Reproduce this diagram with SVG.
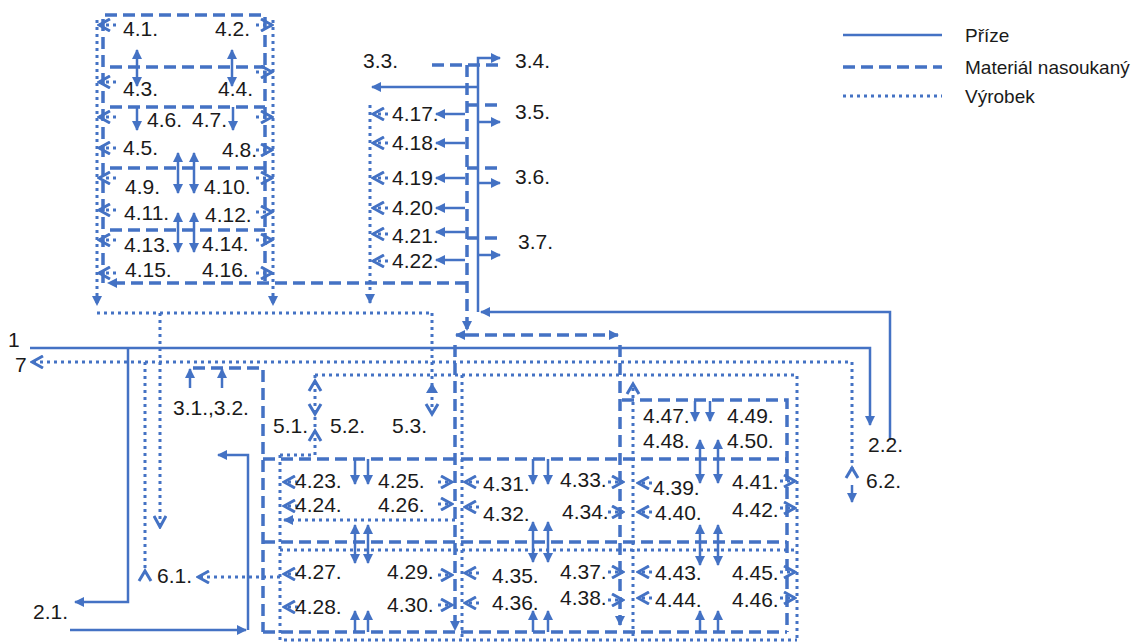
<svg xmlns="http://www.w3.org/2000/svg" width="1137" height="642" viewBox="0 0 1137 642">
<style>
.s{fill:none;stroke:#4472C4;stroke-width:2.5}
.d{fill:none;stroke:#4472C4;stroke-width:3.5;stroke-dasharray:12 6}
.o{fill:none;stroke:#4472C4;stroke-width:3;stroke-dasharray:3 4}
.ch{fill:none;stroke:#4472C4;stroke-width:3}
.ae{marker-end:url(#a)}
.ab{marker-start:url(#a);marker-end:url(#a)}
.ce{marker-end:url(#c)}
text{font-family:"Liberation Sans",Arial,sans-serif;font-size:21px;fill:#1a1a1a}
.lg{font-size:19px}
</style>
<defs>
<marker id="a" viewBox="0 0 10 10" refX="9" refY="5" markerWidth="10" markerHeight="10" markerUnits="userSpaceOnUse" orient="auto-start-reverse"><path d="M0,0 L10,5 L0,10 z" fill="#4472C4"/></marker>
<marker id="c" viewBox="0 0 14 14" refX="12" refY="7" markerWidth="14" markerHeight="14" markerUnits="userSpaceOnUse" orient="auto-start-reverse"><path d="M1,1 L12,7 L1,13" fill="none" stroke="#4472C4" stroke-width="3" stroke-dasharray="none"/></marker>
</defs>
<rect width="1137" height="642" fill="#fff"/>

<g id="legend">
<path class="s" d="M843,35 H942"/>
<path class="d" d="M843,67 H942"/>
<path class="o" d="M843,96 H942"/>
<text class="lg" x="965" y="42">Příze</text>
<text class="lg" x="965" y="74">Materiál nasoukaný</text>
<text class="lg" x="965" y="103">Výrobek</text>
</g>

<g id="connectors">
<!-- top-left block dashed -->
<path class="d" d="M103,283 V15 H265 V283"/>
<path class="d" d="M110,67 H265 M110,107 H265 M110,168 H265 M110,230 H265"/>
<path class="d ae" d="M467,283 H108"/>
<!-- top-left block dotted -->
<path class="o ae" d="M97,20 V305"/>
<path class="o ae" d="M273,20 V305"/>
<path class="o" d="M97,313 H432"/>
<path class="o ce" d="M160,313 V527"/>
<path class="o ce" d="M116,25 H99"/>
<path class="o ce" d="M116,82 H99"/>
<path class="o ce" d="M116,117 H99"/>
<path class="o ce" d="M116,148 H99"/>
<path class="o ce" d="M116,178 H99"/>
<path class="o ce" d="M116,210 H99"/>
<path class="o ce" d="M116,240 H99"/>
<path class="o ce" d="M116,273 H99"/>
<path class="o ce" d="M256,25 H272"/>
<path class="o ce" d="M256,72 H272"/>
<path class="o ce" d="M256,117 H272"/>
<path class="o ce" d="M256,150 H272"/>
<path class="o ce" d="M256,178 H272"/>
<path class="o ce" d="M256,212 H272"/>
<path class="o ce" d="M256,240 H272"/>
<path class="o ce" d="M256,273 H272"/>
<!-- top-left block solid arrows -->
<path class="s ab" d="M137,50 V86"/>
<path class="s ab" d="M232,50 V86"/>
<path class="s ae" d="M137,107 V130"/>
<path class="s ae" d="M233,107 V130"/>
<path class="s ab" d="M178,153 V193"/>
<path class="s ab" d="M194,153 V193"/>
<path class="s ab" d="M178,213 V252"/>
<path class="s ab" d="M194,213 V252"/>

<!-- middle column -->
<path class="s ae" d="M890,440 V312 H481"/>
<path class="s ae" d="M478,312 V58 H500"/>
<path class="s ae" d="M478,87 H372"/>
<path class="s ae" d="M478,122 H500"/>
<path class="s ae" d="M478,183 H500"/>
<path class="s ae" d="M478,255 H500"/>
<path class="s ae" d="M465,114 H436"/>
<path class="s ae" d="M465,143 H436"/>
<path class="s ae" d="M465,178 H436"/>
<path class="s ae" d="M465,208 H436"/>
<path class="s ae" d="M465,232 H436"/>
<path class="s ae" d="M465,260 H436"/>
<path class="d" d="M432,65 H500 M467,105 H500 M467,168 H500 M467,238 H500"/>
<path class="d ae" d="M467,65 V330"/>
<path class="o ae" d="M370,105 V303"/>
<path class="o ce" d="M388,114 H373"/>
<path class="o ce" d="M388,143 H373"/>
<path class="o ce" d="M388,178 H373"/>
<path class="o ce" d="M388,208 H373"/>
<path class="o ce" d="M388,234 H373"/>
<path class="o ce" d="M388,261 H373"/>

<!-- main line 1 and 7 -->
<path class="s ae" d="M30,348 H870 V425"/>
<path class="s ae" d="M128,348 V602 H75"/>
<path class="s ae" d="M70,630 H246"/>
<path class="s ae" d="M248,630 V455 H218"/>
<path class="o ce" d="M852,470 V362 H32"/>
<path class="ch" d="M846,478 L852,468 L858,478"/>
<path class="s ae" d="M852,485 V502"/>
<path class="o" d="M145,362 V572"/>
<path class="ch" d="M139,581 L145,571 L151,581"/>
<path class="o ce" d="M280,577 H198"/>

<!-- 3.1 3.2 -->
<path class="d" d="M193,368 H263 V632"/>
<path class="s ae" d="M190,388 V369"/>
<path class="s ae" d="M222,388 V369"/>

<!-- 5.x -->
<path class="o" d="M315,375 H797 V640"/>
<path class="o" d="M315,375 V455 H280"/>
<path class="ch" d="M309,391 L315,381 L321,391"/>
<path class="ch" d="M309,404 L315,414 L321,404"/>
<path class="ch" d="M309,441 L315,431 L321,441"/>
<path class="o" d="M432,313 V412"/>
<path class="ch" d="M426,404 L432,414 L438,404"/>
<path d="M426,393 L432,383 L438,393 z" fill="#4472C4"/>

<!-- dashed grid -->
<path class="d ae" d="M467,335 H456"/>
<path class="d ae" d="M467,335 H618"/>
<path class="d ae" d="M455,345 V630"/>
<path class="d ae" d="M620,345 V625"/>
<path class="d" d="M263,459 H787 M263,542 H787 M263,632 H787 M622,400 H787 V632"/>

<!-- dotted grid -->
<path class="o" d="M280,455 V640 H797 M280,550 H797 M462,375 V640 M633,388 V640"/>
<path class="o ae" d="M455,520 H284"/>
<path class="ch" d="M627,394 L633,384 L639,394"/>
<!-- chevrons in grid -->
<path class="o ce" d="M298,482 H284"/>
<path class="o ce" d="M298,506 H284"/>
<path class="o ce" d="M298,574 H284"/>
<path class="o ce" d="M298,607 H284"/>
<path class="o ce" d="M438,482 H452"/>
<path class="o ce" d="M438,504 H452"/>
<path class="o ce" d="M438,575 H452"/>
<path class="o ce" d="M438,605 H452"/>
<path class="o ce" d="M479,482 H465"/>
<path class="o ce" d="M479,507 H465"/>
<path class="o ce" d="M479,573 H465"/>
<path class="o ce" d="M479,603 H465"/>
<path class="o ce" d="M608,482 H623"/>
<path class="o ce" d="M608,512 H623"/>
<path class="o ce" d="M608,572 H623"/>
<path class="o ce" d="M608,600 H623"/>
<path class="o ce" d="M652,483 H638"/>
<path class="o ce" d="M652,512 H638"/>
<path class="o ce" d="M652,572 H638"/>
<path class="o ce" d="M652,598 H638"/>
<path class="o ce" d="M780,481 H795"/>
<path class="o ce" d="M780,508 H795"/>
<path class="o ce" d="M780,572 H795"/>
<path class="o ce" d="M780,598 H795"/>

<!-- vertical solid arrows grid -->
<path class="s ae" d="M355,459 V484"/>
<path class="s ae" d="M368,459 V484"/>
<path class="s ae" d="M533,459 V484"/>
<path class="s ae" d="M548,459 V484"/>
<path class="s ae" d="M695,401 V421"/>
<path class="s ae" d="M710,401 V421"/>
<path class="s ab" d="M355,525 V563"/>
<path class="s ab" d="M368,525 V563"/>
<path class="s ab" d="M533,522 V562"/>
<path class="s ab" d="M548,522 V562"/>
<path class="s ab" d="M700,440 V483"/>
<path class="s ab" d="M718,440 V483"/>
<path class="s ab" d="M700,525 V565"/>
<path class="s ab" d="M718,525 V565"/>
<path class="s ae" d="M355,632 V611"/>
<path class="s ae" d="M368,632 V611"/>
<path class="s ae" d="M533,632 V611"/>
<path class="s ae" d="M548,632 V611"/>
<path class="s ae" d="M700,632 V611"/>
<path class="s ae" d="M718,632 V611"/>
</g>

<g id="n4_1"><text x="123" y="36">4.1.</text></g>
<g id="n4_2"><text x="215" y="36">4.2.</text></g>
<g id="n4_3"><text x="123" y="96">4.3.</text></g>
<g id="n4_4"><text x="218" y="96">4.4.</text></g>
<g id="n4_6"><text x="147" y="127">4.6.</text></g>
<g id="n4_7"><text x="192" y="127">4.7.</text></g>
<g id="n4_5"><text x="123" y="155">4.5.</text></g>
<g id="n4_8"><text x="222" y="157">4.8.</text></g>
<g id="n4_9"><text x="125" y="194">4.9.</text></g>
<g id="n4_10"><text x="204" y="194">4.10.</text></g>
<g id="n4_11"><text x="124" y="220">4.11.</text></g>
<g id="n4_12"><text x="205" y="222">4.12.</text></g>
<g id="n4_13"><text x="124" y="252">4.13.</text></g>
<g id="n4_14"><text x="202" y="251">4.14.</text></g>
<g id="n4_15"><text x="125" y="277">4.15.</text></g>
<g id="n4_16"><text x="202" y="277">4.16.</text></g>
<g id="n3_3"><text x="363" y="68">3.3.</text></g>
<g id="n3_4"><text x="515" y="68">3.4.</text></g>
<g id="n3_5"><text x="515" y="119">3.5.</text></g>
<g id="n3_6"><text x="515" y="184">3.6.</text></g>
<g id="n3_7"><text x="518" y="249">3.7.</text></g>
<g id="n4_17"><text x="392" y="121">4.17.</text></g>
<g id="n4_18"><text x="392" y="150">4.18.</text></g>
<g id="n4_19"><text x="392" y="185">4.19.</text></g>
<g id="n4_20"><text x="392" y="215">4.20.</text></g>
<g id="n4_21"><text x="392" y="243">4.21.</text></g>
<g id="n4_22"><text x="392" y="268">4.22.</text></g>
<g id="n1"><text x="8" y="347">1</text></g>
<g id="n7"><text x="15" y="372">7</text></g>
<g id="n3_1"><text x="173" y="415">3.1.,3.2.</text></g>
<g id="n5_1"><text x="273" y="433">5.1.</text></g>
<g id="n5_2"><text x="330" y="433">5.2.</text></g>
<g id="n5_3"><text x="392" y="433">5.3.</text></g>
<g id="n4_47"><text x="643" y="423">4.47.</text></g>
<g id="n4_49"><text x="727" y="423">4.49.</text></g>
<g id="n4_48"><text x="643" y="448">4.48.</text></g>
<g id="n4_50"><text x="727" y="448">4.50.</text></g>
<g id="n4_23"><text x="295" y="488">4.23.</text></g>
<g id="n4_25"><text x="378" y="488">4.25.</text></g>
<g id="n4_24"><text x="295" y="512">4.24.</text></g>
<g id="n4_26"><text x="378" y="512">4.26.</text></g>
<g id="n4_31"><text x="483" y="491">4.31.</text></g>
<g id="n4_33"><text x="560" y="487">4.33.</text></g>
<g id="n4_32"><text x="483" y="521">4.32.</text></g>
<g id="n4_34"><text x="562" y="519">4.34.</text></g>
<g id="n4_39"><text x="653" y="495">4.39.</text></g>
<g id="n4_41"><text x="732" y="489">4.41.</text></g>
<g id="n4_40"><text x="655" y="520">4.40.</text></g>
<g id="n4_42"><text x="732" y="517">4.42.</text></g>
<g id="n4_27"><text x="295" y="579">4.27.</text></g>
<g id="n4_29"><text x="387" y="579">4.29.</text></g>
<g id="n4_28"><text x="295" y="614">4.28.</text></g>
<g id="n4_30"><text x="387" y="612">4.30.</text></g>
<g id="n4_35"><text x="492" y="583">4.35.</text></g>
<g id="n4_37"><text x="560" y="579">4.37.</text></g>
<g id="n4_36"><text x="492" y="610">4.36.</text></g>
<g id="n4_38"><text x="560" y="605">4.38.</text></g>
<g id="n4_43"><text x="655" y="580">4.43.</text></g>
<g id="n4_45"><text x="732" y="580">4.45.</text></g>
<g id="n4_44"><text x="655" y="607">4.44.</text></g>
<g id="n4_46"><text x="732" y="607">4.46.</text></g>
<g id="n6_1"><text x="157" y="583">6.1.</text></g>
<g id="n6_2"><text x="866" y="488">6.2.</text></g>
<g id="n2_1"><text x="33" y="619">2.1.</text></g>
<g id="n2_2"><text x="868" y="452">2.2.</text></g>
</svg>
